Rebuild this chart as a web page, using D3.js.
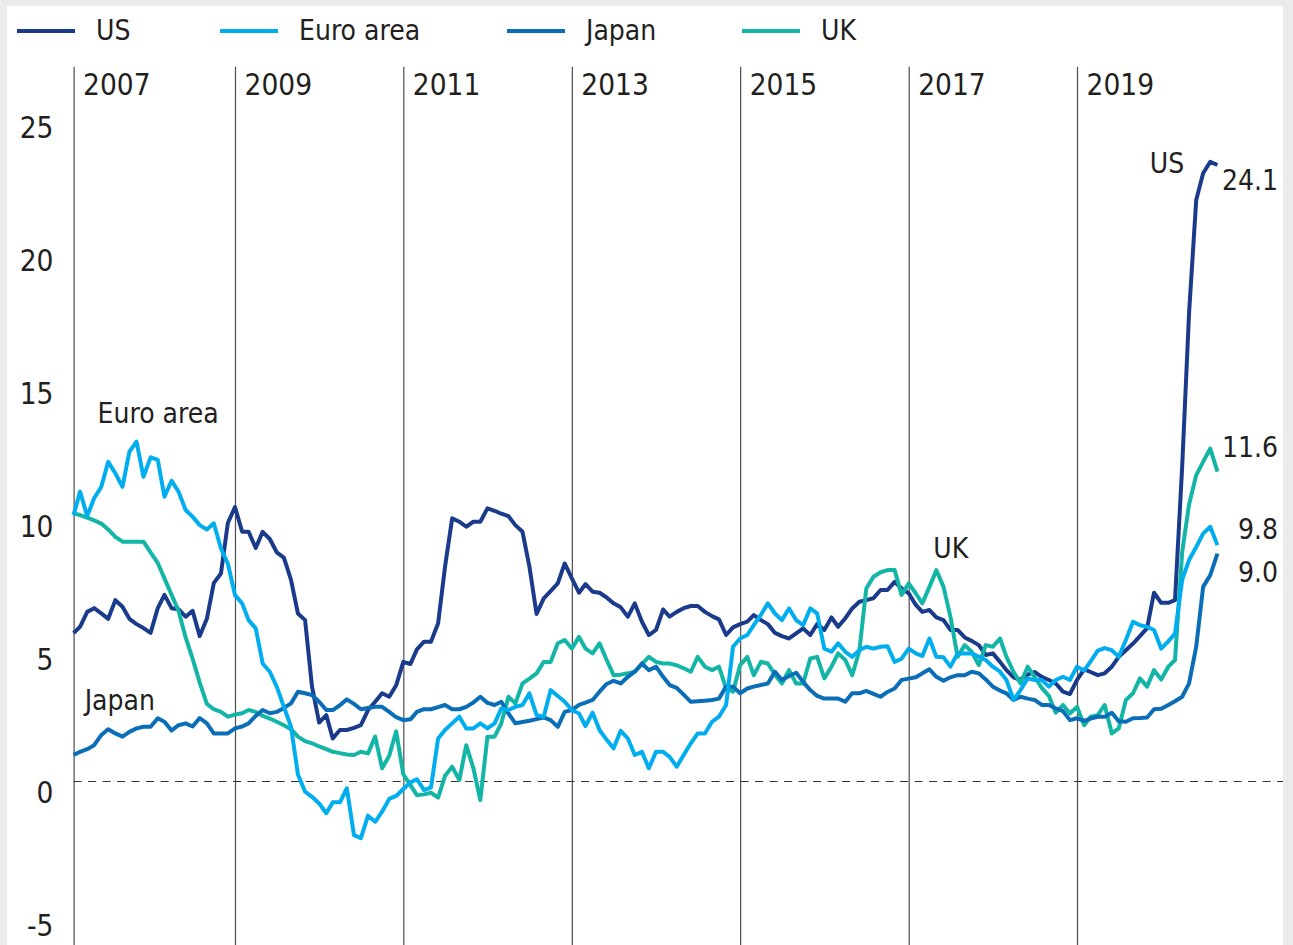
<!DOCTYPE html>
<html><head><meta charset="utf-8">
<script src="https://cdn.jsdelivr.net/npm/d3@7"></script>
<style>
html,body{margin:0;padding:0;background:#ebebed;}
svg{display:block;}
text{font-family:"DejaVu Sans Condensed","DejaVu Sans",sans-serif;font-stretch:condensed;fill:#231f20;}
</style></head><body>
<svg id="chart" width="1293" height="945"></svg>
<script>
// ---- data (monthly, Feb 2007 – Sep 2020) ----
const seriesNames = ["US", "Euro area", "Japan", "UK"];
const seriesColors = ["#1a3a8c", "#00aeef", "#0a6db8", "#12b5a6"];
const yTickValues = [-5, 0, 5, 10, 15, 20, 25];
const yearTicks = ["2007-02", "2009-01", "2011-01", "2013-01", "2015-01", "2017-01", "2019-01"];

const usValues = [5.56,5.8,6.36,6.5,6.3,6.1,6.8,6.55,6.1,5.9,
 5.75,5.57,6.5,7.0,6.5,6.46,6.18,6.4,5.45,6.1,
 7.44,7.8,9.7,10.3,9.37,9.37,8.76,9.37,9.1,8.6,
 8.4,7.56,6.3,6.05,3.55,2.2,2.48,1.6,1.92,1.92,
 2.0,2.1,2.67,2.98,3.3,3.17,3.6,4.48,4.4,4.95,
 5.24,5.24,5.93,8.06,9.88,9.75,9.56,9.75,9.75,10.25,
 10.16,10.05,9.96,9.62,9.37,8.06,6.28,6.87,7.14,7.43,
 8.18,7.62,7.08,7.4,7.12,7.08,6.9,6.68,6.53,6.18,
 6.68,5.99,5.49,5.68,6.45,6.18,6.36,6.5,6.58,6.58,
 6.36,6.2,6.08,5.49,5.78,5.9,5.99,6.24,6.05,5.9,
 5.57,5.45,5.36,5.55,5.74,5.49,5.9,5.68,6.15,5.8,
 6.12,6.49,6.74,6.8,6.87,7.18,7.18,7.49,7.24,7.06,
 6.62,6.36,6.43,6.15,6.05,5.68,5.68,5.4,5.27,5.11,
 4.74,4.8,4.48,4.17,3.9,3.8,4.0,4.1,3.92,3.8,
 3.67,3.36,3.27,3.8,4.2,4.1,3.98,4.05,4.3,4.67,
 4.92,5.17,5.45,5.75,7.08,6.7,6.7,6.8,11.8,17.6,
 21.84,22.85,23.28,23.16];

const euroValues = [10.0,10.88,9.96,10.63,11.06,12.0,11.57,11.06,12.38,12.76,
 11.44,12.17,12.07,10.69,11.29,10.88,10.19,9.94,9.62,9.46,
 9.69,8.75,8.18,6.99,6.68,6.05,5.74,4.42,4.11,3.55,
 2.79,2.04,0.25,-0.4,-0.59,-0.84,-1.21,-0.8,-0.8,-0.27,
 -2.03,-2.15,-1.3,-1.53,-1.15,-0.67,-0.56,-0.3,-0.05,0.07,
 -0.34,-0.24,1.6,1.92,2.17,2.42,1.98,1.98,2.17,1.98,
 2.17,2.73,2.67,2.79,2.86,3.3,2.48,2.42,3.42,3.2,
 2.98,2.67,2.54,2.07,2.57,1.92,1.55,1.23,1.89,1.6,
 0.98,1.1,0.48,1.1,1.1,0.91,0.54,0.98,1.42,1.79,
 1.79,2.23,2.42,2.86,5.05,5.36,5.49,5.86,6.25,6.68,
 6.3,6.05,6.49,6.05,5.86,6.49,6.3,4.98,4.86,5.18,
 4.86,4.67,4.92,5.05,4.98,5.05,5.07,4.48,4.6,4.98,
 4.8,4.7,5.36,4.67,4.65,4.3,4.8,4.8,4.8,4.67,
 4.55,4.3,4.11,3.8,3.05,3.42,3.86,3.8,3.8,3.55,
 3.8,3.92,3.8,4.3,4.15,4.5,4.9,5.0,4.92,4.67,
 5.3,5.99,5.86,5.8,5.68,4.98,5.25,5.55,7.56,8.31,
 8.8,9.3,9.56,8.87];

const japanValues = [0.98,1.1,1.2,1.35,1.73,1.95,1.79,1.67,1.85,1.98,
 2.04,2.04,2.36,2.23,1.9,2.1,2.17,2.05,2.37,2.17,
 1.79,1.79,1.79,1.98,2.05,2.17,2.45,2.67,2.55,2.6,
 2.75,2.92,3.36,3.3,3.23,2.98,2.67,2.67,2.85,3.07,
 2.9,2.7,2.75,2.79,2.79,2.6,2.4,2.29,2.32,2.6,
 2.7,2.7,2.78,2.86,2.7,2.7,2.79,2.95,3.17,2.94,
 2.86,2.98,2.54,2.17,2.22,2.27,2.33,2.39,2.29,2.04,
 2.6,2.67,2.86,2.95,3.05,3.36,3.65,3.77,3.67,3.92,
 4.11,4.42,4.17,4.3,3.92,3.61,3.5,3.25,2.98,3.0,
 3.02,3.05,3.1,3.55,3.55,3.3,3.48,3.55,3.61,3.67,
 4.11,3.8,3.95,4.07,3.73,3.42,3.2,3.1,3.1,3.1,
 2.98,3.3,3.3,3.39,3.28,3.17,3.35,3.48,3.8,3.85,
 3.9,4.05,4.2,3.92,3.77,3.9,3.98,3.98,4.11,4.05,
 3.82,3.55,3.4,3.3,3.05,3.17,3.1,3.05,2.86,2.86,
 2.73,2.63,2.29,2.36,2.26,2.35,2.42,2.42,2.57,2.25,
 2.23,2.36,2.37,2.39,2.7,2.72,2.86,3.0,3.17,3.67,
 5.05,7.3,7.74,8.55];

const ukValues = [10.06,10.0,9.9,9.8,9.68,9.46,9.18,9.0,9.0,9.0,
 9.0,8.6,8.2,7.62,7.0,6.4,5.4,4.6,3.7,2.9,
 2.7,2.6,2.42,2.5,2.55,2.67,2.6,2.45,2.35,2.23,
 2.1,1.95,1.67,1.5,1.42,1.3,1.2,1.1,1.05,1.0,
 0.98,1.1,1.04,1.67,0.48,0.95,1.87,0.25,-0.15,-0.53,
 -0.5,-0.44,-0.62,0.2,0.54,0.04,1.35,0.48,-0.71,1.67,
 1.67,2.17,3.17,2.92,3.67,3.85,4.05,4.48,4.48,5.18,
 5.3,4.98,5.42,4.98,4.8,5.18,4.55,3.98,4.0,4.05,
 4.11,4.4,4.67,4.48,4.42,4.42,4.35,4.24,4.11,4.67,
 4.3,4.17,4.3,3.48,3.36,4.36,4.67,3.98,4.48,4.42,
 4.0,3.67,4.17,3.67,3.67,4.61,4.67,3.86,4.3,4.8,
 4.55,3.98,4.9,7.24,7.68,7.85,7.93,7.93,7.0,7.43,
 7.05,6.68,7.3,7.93,7.3,6.18,4.67,5.11,4.86,4.36,
 5.11,5.05,5.36,4.67,4.1,3.67,4.3,3.92,3.5,3.2,
 2.57,2.86,2.54,2.79,2.1,2.42,2.48,2.86,1.79,1.98,
 3.05,3.3,3.86,3.55,4.17,3.82,4.3,4.55,8.6,10.4,
 11.5,12.0,12.5,11.63];

// annotation anchors in data coordinates
const seriesLabels = [
  {text: "Euro area", date: "2007-05-16", value: 13.46, anchor: "start"},
  {text: "Japan", date: "2007-03-21", value: 2.67, anchor: "start"},
  {text: "UK", date: "2017-04-18", value: 8.38, anchor: "start"},
  {text: "US", date: "2019-11-13", value: 22.86, anchor: "start"}
];
const endLabels = [
  {text: "24.1", value: 22.22},
  {text: "11.6", value: 12.18},
  {text: "9.8", value: 9.1},
  {text: "9.0", value: 7.49}
];
const endLabelDate = "2021-05-22";

// ---- drawing ----
const parseMonth = d3.timeParse("%Y-%m");
const parseDay = d3.timeParse("%Y-%m-%d");
const n = usValues.length;
const months = d3.range(n).map(i => new Date(2007, 1 + i, 1));
const allSeries = [usValues, euroValues, japanValues, ukValues];

const svg = d3.select("#chart");
// white panel
svg.append("rect").attr("x", 7).attr("y", 6).attr("width", 1276).attr("height", 945).attr("fill", "#ffffff");

const x = d3.scaleTime()
  .domain([new Date(2007, 1, 1), new Date(2021, 1, 1)])
  .range([73.6, 1252.7]);
const y = d3.scaleLinear()
  .domain([-6.2, 26.85])
  .range([946, 66.8]);

// vertical year lines + labels
const xAxis = d3.axisBottom(x)
  .tickValues(yearTicks.map(parseMonth))
  .tickSize(y(-6.2) - y(26.85))
  .tickFormat(d3.timeFormat("%Y"));
const gx = svg.append("g").attr("transform", `translate(0,${y(26.85)})`).call(xAxis);
gx.select(".domain").remove();
gx.selectAll(".tick line").attr("stroke", "#4d4d4d").attr("stroke-width", 1.2);
gx.selectAll(".tick text")
  .attr("x", 9).attr("y", 28.2).attr("dy", null)
  .attr("text-anchor", "start")
  .style("font-size", "29.5px");

// y axis labels (plain hyphen for negatives)
const yAxis = d3.axisLeft(y).tickValues(yTickValues).tickSize(0).tickPadding(0)
  .tickFormat(d => String(d));
const gy = svg.append("g").attr("transform", "translate(53.5,0)").call(yAxis);
gy.select(".domain").remove();
gy.selectAll(".tick text")
  .attr("dy", "0.73em")
  .attr("text-anchor", "end")
  .style("font-size", "29.5px");

// zero dashed line
svg.append("line")
  .attr("x1", x.range()[0]).attr("x2", 1283)
  .attr("y1", Math.round(y(0)) + 0.5).attr("y2", Math.round(y(0)) + 0.5)
  .attr("stroke", "#333").attr("stroke-width", 1)
  .attr("stroke-dasharray", "8,6.5");

// lines (bottom to top: US, UK, Japan, Euro area)
const line = d3.line()
  .x((d, i) => x(months[i]))
  .y(d => y(d));
const drawOrder = [0, 3, 2, 1];
drawOrder.forEach(k => {
  svg.append("path")
    .datum(allSeries[k])
    .attr("d", line)
    .attr("fill", "none")
    .attr("stroke", seriesColors[k])
    .attr("stroke-width", 4)
    .attr("stroke-linejoin", "round");
});

// series labels
svg.selectAll("text.slabel").data(seriesLabels).enter().append("text")
  .attr("class", "slabel")
  .attr("x", d => x(parseDay(d.date)))
  .attr("y", d => y(d.value))
  .attr("text-anchor", d => d.anchor)
  .style("font-size", "28px")
  .text(d => d.text);

svg.selectAll("text.elabel").data(endLabels).enter().append("text")
  .attr("class", "elabel")
  .attr("x", x(parseDay(endLabelDate)))
  .attr("y", d => y(d.value))
  .attr("text-anchor", "end")
  .style("font-size", "28px")
  .text(d => d.text);

// legend
const legendX = [17, 220, 507, 742];
const lg = svg.append("g");
seriesNames.forEach((name, k) => {
  lg.append("line")
    .attr("x1", legendX[k]).attr("x2", legendX[k] + 58)
    .attr("y1", 31).attr("y2", 31)
    .attr("stroke", seriesColors[k]).attr("stroke-width", 4);
  lg.append("text")
    .attr("x", legendX[k] + 79).attr("y", 40)
    .style("font-size", "28px")
    .text(name);
});
</script>
</body></html>
